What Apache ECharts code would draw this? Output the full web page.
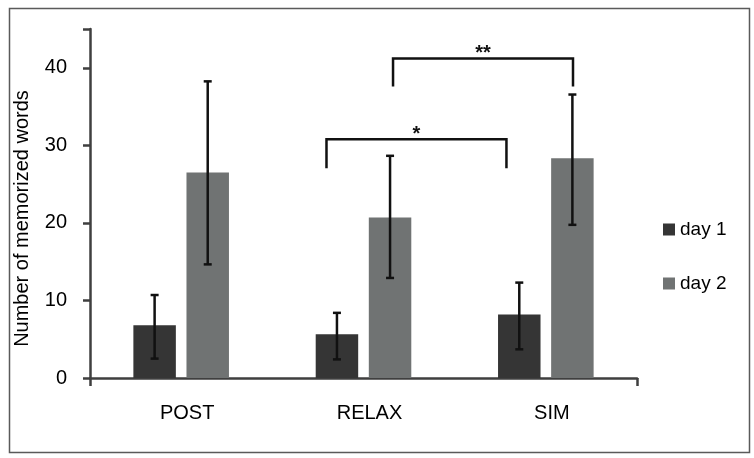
<!DOCTYPE html>
<html><head><meta charset="utf-8">
<script src="https://cdn.jsdelivr.net/npm/echarts@6/dist/echarts.min.js"></script>
<style>html,body{margin:0;padding:0;background:#fff}#c{width:754px;height:458px}</style>
</head><body><div id="c"></div>
<script>
// ---- data ----
const categories = ['POST', 'RELAX', 'SIM'];
const seriesNames = ['day 1', 'day 2'];
const day1 = [6.8, 5.65, 8.2];
const day2 = [26.5, 20.7, 28.35];
const day1Low = [2.5, 2.4, 3.7];
const day1High = [10.7, 8.4, 12.3];
const day2Low = [14.65, 12.9, 19.75];
const day2High = [38.25, 28.65, 36.55];
const yMin = 0;
const yMax = 45;
const yInterval = 10;
// significance brackets (x in category units 0..3, y in data units)
const bracketX1 = [1.297, 1.662];
const bracketX2 = [2.284, 2.649];
const bracketTop = [30.8, 41.2];
const bracketLeg = [27.05, 37.6];
const bracketLabel = ['*', '**'];

// ---- style ----
const FONT = "'Liberation Sans', Arial, Helvetica, sans-serif";
const AXIS_COLOR = '#3f3f3f';
const C1 = '#353535';
const C2 = '#707373';
const BAR_W = 0.233;
const BAR_GAP = 0.25;
const LW = 2.5;

const chart = echarts.init(document.getElementById('c'), null, {renderer: 'canvas'});

function errorRender(sign) {
  return function (params, api) {
    const i = api.value(0);
    const lo = api.coord([i, api.value(1)]);
    const hi = api.coord([i, api.value(2)]);
    const band = api.size([1, 0])[0];
    const x = lo[0] + sign * band * BAR_W * (1 + BAR_GAP) / 2;
    const cap = 4;
    const style = {stroke: '#111', lineWidth: LW, fill: null};
    return {type: 'group', children: [
      {type: 'line', shape: {x1: x, y1: hi[1], x2: x, y2: lo[1]}, style: style},
      {type: 'line', shape: {x1: x - cap, y1: hi[1], x2: x + cap, y2: hi[1]}, style: style},
      {type: 'line', shape: {x1: x - cap, y1: lo[1], x2: x + cap, y2: lo[1]}, style: style}
    ]};
  };
}

function bracketRender(params, api) {
  const x1 = api.value(0), x2 = api.value(1), yt = api.value(2), yl = api.value(3);
  const p1 = api.coord([x1, yl]);
  const p2 = api.coord([x1, yt]);
  const p3 = api.coord([x2, yt]);
  const p4 = api.coord([x2, yl]);
  const label = bracketLabel[params.dataIndex];
  return {type: 'group', children: [
    {type: 'polyline', shape: {points: [p1, p2, p3, p4]},
      style: {stroke: '#111', lineWidth: LW, fill: null}},
    {type: 'text', x: (p2[0] + p3[0]) / 2, y: p2[1] - 5,
      style: {text: label, fill: '#111', font: 'bold 20px ' + FONT, align: 'center', verticalAlign: 'middle'}}
  ]};
}

const option = {
  backgroundColor: '#fff',
  animation: false,
  textStyle: {fontFamily: FONT},
  grid: {left: 90, right: 117, top: 29, bottom: 80, containLabel: false, outerBoundsMode: 'none'},
  legend: {
    orient: 'vertical', left: 663, top: 220, padding: 0,
    itemWidth: 12, itemHeight: 12, itemGap: 35, icon: 'rect',
    textStyle: {fontSize: 19, color: '#000', fontFamily: FONT},
    data: seriesNames
  },
  xAxis: [{
    type: 'category', data: categories, position: 'bottom',
    axisLine: {lineStyle: {color: AXIS_COLOR, width: LW}},
    axisTick: {alignWithLabel: true, length: 8, lineStyle: {color: AXIS_COLOR, width: LW}},
    axisLabel: {fontSize: 20, color: '#000', margin: 25, fontFamily: FONT, padding: [0, 0, 0, 12]},
    splitLine: {show: false}
  }, {
    type: 'value', min: 0, max: 3, interval: 3, position: 'bottom',
    axisLine: {show: false},
    axisTick: {show: true, length: 8, lineStyle: {color: AXIS_COLOR, width: LW}},
    axisLabel: {show: false},
    splitLine: {show: false}
  }],
  yAxis: [{
    type: 'value', min: yMin, max: yMax, interval: yInterval,
    name: 'Number of memorized words', nameLocation: 'middle', nameGap: 58,
    nameTextStyle: {fontSize: 20, color: '#000', fontFamily: FONT, padding: [0, 30, 0, 0]},
    axisLine: {show: true, lineStyle: {color: AXIS_COLOR, width: LW}},
    axisTick: {show: true, length: 7, lineStyle: {color: AXIS_COLOR, width: LW}},
    axisLabel: {fontSize: 20, color: '#000', margin: 23, fontFamily: FONT, showMaxLabel: false, padding: [6, 0, 0, 0]},
    splitLine: {show: false}
  }, {
    type: 'value', min: yMin, max: yMax, interval: yMax, position: 'left',
    axisLine: {show: false},
    axisTick: {show: true, length: 7, lineStyle: {color: AXIS_COLOR, width: LW}},
    axisLabel: {show: false},
    splitLine: {show: false}
  }],
  series: [
    {name: seriesNames[0], type: 'bar', data: day1, barWidth: (BAR_W * 100) + '%', barGap: (BAR_GAP * 100) + '%',
      itemStyle: {color: C1}},
    {name: seriesNames[1], type: 'bar', data: day2, barWidth: (BAR_W * 100) + '%', barGap: (BAR_GAP * 100) + '%',
      itemStyle: {color: C2}},
    {type: 'custom', name: 'err1', renderItem: errorRender(-1), z: 10,
      encode: {x: 0, y: [1, 2]},
      data: categories.map((c, i) => [i, day1Low[i], day1High[i]])},
    {type: 'custom', name: 'err2', renderItem: errorRender(1), z: 10,
      encode: {x: 0, y: [1, 2]},
      data: categories.map((c, i) => [i, day2Low[i], day2High[i]])},
    {type: 'custom', name: 'sig', xAxisIndex: 1, renderItem: bracketRender, z: 10, clip: false,
      encode: {x: [0, 1], y: [2, 3]},
      data: bracketX1.map((x, i) => [x, bracketX2[i], bracketTop[i], bracketLeg[i]])}
  ],
  graphic: [{
    type: 'rect', left: 7, top: 6, z: -1,
    shape: {width: 740, height: 444},
    style: {fill: null, stroke: '#5a5a5a', lineWidth: 1.5}
  }]
};
chart.setOption(option);
</script>
</body></html>
